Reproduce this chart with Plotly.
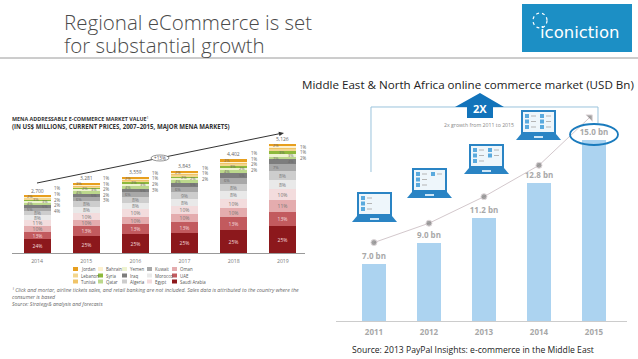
import plotly.graph_objects as go

W, H = 638, 359
FONT = "Open Sans"

# ---------- left chart data ----------
left_years = [2014, 2015, 2016, 2017, 2018, 2019]
left_totals = [2700, 3281, 3559, 3843, 4402, 5126]
left_total_labels = ["2,700", "3,281", "3,559", "3,843", "4,402", "5,126"]
countries = ["Saudi Arabia", "UAE", "Oman", "Egypt", "Morocco", "Algeria", "Kuwait", "Iraq",
             "Qatar", "Yemen", "Syria", "Lebanon", "Tunisia", "Bahrain", "Jordan"]
saudi = [24, 25, 25, 25, 25, 25]
uae = [13, 13, 13, 13, 13, 13]
oman = [10, 10, 10, 10, 10, 11]
egypt = [11, 10, 10, 10, 10, 10]
morocco = [8, 8, 8, 8, 8, 8]
algeria = [8, 8, 8, 9, 8, 8]
kuwait = [5, 6, 6, 6, 6, 7]
iraq = [5, 5, 5, 5, 5, 4]
qatar = [4, 4, 4, 4, 4, 2]
yemen = [3, 3, 3, 2, 2, 3]
syria = [3, 2, 2, 2, 3, 3]
lebanon = [2, 2, 2, 2, 2, 2]
tunisia = [1, 1, 1, 1, 1, 1]
bahrain = [1, 1, 1, 1, 1, 1]
jordan = [2, 2, 2, 2, 2, 2]
shares = [saudi, uae, oman, egypt, morocco, algeria, kuwait, iraq,
          qatar, yemen, syria, lebanon, tunisia, bahrain, jordan]
side_labels = [["1%", "1%", "2%", "2%", "4%"], ["1%", "1%", "2%", "2%", "3%"],
               ["1%", "1%", "2%", "3%"], ["1%", "1%", "2%"],
               ["1%", "1%", "2%", "2%"], ["1%", "1%", "2%"]]
legend_rows = [["Jordan", "Bahrain", "Yemen", "Kuwait", "Oman"],
               ["Lebanon", "Syria", "Iraq", "Morocco", "UAE"],
               ["Tunisia", "Qatar", "Algeria", "Egypt", "Saudi Arabia"]]

# ---------- right chart data ----------
right_years = [2011, 2012, 2013, 2014, 2015]
right_labels = ["7.0 bn", "9.0 bn", "11.2 bn", "12.8 bn", "15.0 bn"]
drawn_height_bn = [4.7, 6.5, 8.5, 11.4, 15.0]   # the source bars are not drawn to scale
trend_x = [2011, 2012, 2013, 2014, 2014.93]
trend_y = [6.5, 8.1, 10.3, 12.9, 16.9]

colors = {"Saudi Arabia": "#8c181c", "UAE": "#c25a5e", "Oman": "#e4acae", "Egypt": "#f3dcdd",
          "Morocco": "#e9e9e9", "Algeria": "#cdcdcd", "Kuwait": "#a8a8a8", "Iraq": "#7d7d7d",
          "Qatar": "#bcd88c", "Yemen": "#eef3d0", "Syria": "#8db93c", "Lebanon": "#f3d68e",
          "Tunisia": "#f0c468", "Bahrain": "#fdf1d0", "Jordan": "#e79f1e"}
dark = {"Saudi Arabia", "UAE"}
centred = {"Saudi Arabia", "UAE", "Oman", "Egypt", "Morocco", "Algeria"}
offset_labels = {"Kuwait": -7, "Iraq": 8, "Qatar": -7, "Yemen": 8, "Syria": -1, "Jordan": -7}


def px(x):
    return x / W


def py(y):
    return 1 - y / H


def rect(x0, y0, x1, y1, fill, line=None, lw=0):
    return dict(type="rect", xref="paper", yref="paper", x0=px(x0), x1=px(x1), y0=py(y0), y1=py(y1),
                fillcolor=fill, line=dict(color=line or fill, width=lw), layer="above")


def path(points, fill=None, line=None, lw=1, close=True):
    d = "M" + " L".join(f"{px(a):.5f},{py(b):.5f}" for a, b in points) + (" Z" if close else "")
    return dict(type="path", xref="paper", yref="paper", path=d, fillcolor=fill or "rgba(0,0,0,0)",
                line=dict(color=line or "rgba(0,0,0,0)", width=lw), layer="above")


def note(x, y, text, size=6, color="#555", anchor="left", **kw):
    return dict(xref="paper", yref="paper", x=px(x), y=py(y), text=text, showarrow=False,
                xanchor=anchor, yanchor="middle", align=anchor,
                font=dict(size=size, color=color, family=kw.pop("family", FONT)), **kw)


fig = go.Figure()
annotations = []

# left stacked bars
running = [0.0] * len(left_years)
for name, vals in zip(countries, shares):
    seg = [t * v / 100 for t, v in zip(left_totals, vals)]
    kw = {}
    if name in centred:
        kw = dict(text=[f"{v}%" for v in vals], textposition="inside", insidetextanchor="middle",
                  textangle=0, constraintext="none",
                  textfont=dict(size=5, color="#f4dede" if name in dark else "#777", family=FONT))
    fig.add_bar(x=left_years, y=seg, name=name, marker=dict(color=colors[name], line=dict(width=0)),
                width=0.55, xaxis="x", yaxis="y", showlegend=False, **kw)
    if name in offset_labels:
        for yr, base, s, v in zip(left_years, running, seg, vals):
            annotations.append(dict(x=yr, y=base + s / 2, xref="x", yref="y", text=f"{v}%", showarrow=False,
                                    xshift=offset_labels[name],
                                    font=dict(size=4, color="#666", family=FONT)))
    running = [r + s for r, s in zip(running, seg)]

# right bars and trend
fig.add_bar(x=right_years, y=drawn_height_bn, width=0.436, marker=dict(color="#acd3f0", line=dict(width=0)),
            text=[f"<b>{t}</b>" for t in right_labels], textposition="outside", cliponaxis=False,
            constraintext="none", textfont=dict(size=8, color="#a8a8a8", family=FONT),
            xaxis="x2", yaxis="y2", showlegend=False)
fig.add_scatter(x=trend_x, y=trend_y, mode="lines+markers", line=dict(color="#d3c8cc", width=1),
                marker=dict(color="#7b7b7b", size=[6, 6, 6, 6, 7],
                            symbol=["circle"] * 4 + ["triangle-ne"]),
                xaxis="x2", yaxis="y2", showlegend=False, cliponaxis=False)

shapes = [
    dict(type="line", xref="paper", yref="paper", x0=0, x1=1, y0=py(58), y1=py(58),
         line=dict(color="#9a9a9a", width=1)),
    rect(522, 4, 632, 52, "#1c8fc5"),
    dict(type="circle", xref="paper", yref="paper", x0=px(533), x1=px(547), y0=py(28), y1=py(13),
         line=dict(color="white", width=1.2, dash="dot"), layer="above"),
]
annotations += [
    note(62, 22, "Regional eCommerce is set", 20.5, "#4a4a4a", family="Open Sans Light, Open Sans"),
    note(62, 45, "for substantial growth", 20.5, "#4a4a4a", family="Open Sans Light, Open Sans"),
    note(579, 33, "iconiction", 16.5, "white", anchor="center", family="DejaVu Sans"),
    note(300, 84, "Middle East &amp; North Africa online commerce market (USD Bn)", 11.6, "#222222"),
    note(350, 350, "Source: 2013 PayPal Insights: e-commerce in the Middle East", 8.6, "#222222"),
    note(10, 118.5, "<b>MENA ADDRESSABLE E-COMMERCE MARKET VALUE</b><sup>1</sup>", 5.4, "#333"),
    note(10, 126.5, "<b>(IN US$ MILLIONS, CURRENT PRICES, 2007–2015, MAJOR MENA MARKETS)</b>", 6.1, "#333"),
    note(10, 290, "<i>¹ Click and mortar, airline tickets sales, and retail banking are not included. Sales data is attributed to the country where the</i>", 5.25, "#666"),
    note(10, 297, "<i>consumer is based</i>", 5.25, "#666"),
    note(10, 304, "<i>Source: Strategy&amp; analysis and forecasts</i>", 5.1, "#666"),
    note(479, 125, "2x growth from 2011 to 2015", 5.2, "#888", anchor="center"),
    note(480, 108.5, "<b>2X</b>", 11, "white", anchor="center"),
]

# left totals and side labels
side_y = [[188.5, 194, 199.5, 205, 210.5], [178, 184, 189, 195, 200], [173, 178, 184, 190],
          [168, 173, 179], [153, 159, 164, 170], [147, 152, 158]]
for yr, tot, lab, sl, ys in zip(left_years, left_totals, left_total_labels, side_labels, side_y):
    annotations.append(dict(x=yr, y=tot, xref="x", yref="y", text=lab, showarrow=False, yanchor="bottom",
                            font=dict(size=5, color="#666", family=FONT)))
    for t, yy in zip(sl, ys):
        annotations.append(dict(x=yr, xref="x", y=py(yy), yref="paper", text=t, showarrow=False,
                                xanchor="left", xshift=15, font=dict(size=4.4, color="#666", family=FONT)))

# CAGR arrow
shapes.append(path([(37, 183), (280, 133.6)], line="#333", lw=1, close=False))
shapes.append(path([(284, 133), (278.5, 131.8), (279.5, 136)], fill="#333"))
shapes.append(dict(type="circle", xref="paper", yref="paper", x0=px(151), x1=px(169), y0=py(155), y1=py(161),
                   fillcolor="white", line=dict(color="#666", width=0.7), layer="above"))
annotations.append(note(160, 158, "+13%", 4.6, "#555", anchor="center"))

# left legend
col_x = [73, 98, 122, 147, 172]
row_y = [269, 275.5, 281.5]
for row, yy in zip(legend_rows, row_y):
    for nm, xx in zip(row, col_x):
        shapes.append(rect(xx, yy - 2, xx + 5, yy + 2, colors[nm]))
        annotations.append(note(xx + 6, yy, nm, 4.4, "#555"))

# 2X arrow and bracket
shapes.append(path([(371, 172), (371, 107), (598, 107), (598, 123)], line="#9bc3dc", lw=1, close=False))
shapes.append(path([(480, 93), (504, 107), (493, 107), (493, 118), (467, 118), (467, 107), (455, 107)],
                   fill="#1273ba"))
# oval
shapes.append(dict(type="circle", xref="paper", yref="paper", x0=px(570), x1=px(618), y0=py(124), y1=py(145),
                   fillcolor="rgba(0,0,0,0)", line=dict(color="#1a7bbd", width=1.8), layer="above"))


def laptop(x0, y0, second):
    """x0,y0: upper-left corner of the screen."""
    blue = "#2a84c4"
    out = [
        rect(x0, y0, x0 + 35, y0 + 24, blue),
        rect(x0 + 2, y0 + 2, x0 + 33, y0 + 22, "#eef6fb"),
        path([(x0, y0 + 24), (x0 + 35, y0 + 24), (x0 + 40, y0 + 30), (x0 - 5, y0 + 30)], fill=blue),
        rect(x0 + 13, y0 + 26, x0 + 22, y0 + 28, "#cfe6f6"),
    ]
    for k in range(3):
        yy = y0 + 4 + k * 5.5
        out.append(rect(x0 + 4, yy, x0 + 8, yy + 4, "#5aaade"))
        out.append(rect(x0 + 10, yy + 1.5, x0 + 15, yy + 2.5, "#b5b5b5"))
    for k in range(second):
        yy = y0 + 4 + k * 5.5
        out.append(rect(x0 + 19, yy, x0 + 23, yy + 4, "#5aaade"))
        out.append(rect(x0 + 25, yy + 1.5, x0 + 30, yy + 2.5, "#b5b5b5"))
    return out


for (lx, ly), sec in zip([(357, 192), (412, 168), (469, 144), (521, 110)], [0, 1, 2, 3]):
    shapes += laptop(lx, ly, sec)

fig.update_layout(
    width=W, height=H, margin=dict(l=0, r=0, t=0, b=0), autosize=False,
    paper_bgcolor="white", plot_bgcolor="rgba(0,0,0,0)", barmode="stack", bargap=0,
    font=dict(family=FONT), showlegend=False,
    shapes=shapes, annotations=annotations,
    xaxis=dict(domain=[px(12), px(305)], range=[2013.49, 2019.45], tickvals=left_years,
               ticktext=[str(y) for y in left_years], ticklabelstandoff=3,
               ticks="", showgrid=False, zeroline=False, showline=True, linecolor="#999999", linewidth=1,
               tickfont=dict(size=5.2, color="#777", family=FONT), anchor="y"),
    yaxis=dict(domain=[py(253), py(130)], range=[0, 5785], visible=False, anchor="x"),
    xaxis2=dict(domain=[px(336), px(627)], range=[2010.31, 2015.6], tickvals=right_years,
                ticktext=[f"<b>{y}</b>" for y in right_years], ticklabelstandoff=3,
                ticks="", showgrid=False, zeroline=False, showline=True, linecolor="#cccccc", linewidth=1,
                tickfont=dict(size=8, color="#a8a8a8", family=FONT), anchor="y2"),
    yaxis2=dict(domain=[py(321), py(100)], range=[0, 18.31], visible=False, anchor="x2"),
)

fig.write_html("out.html", config={"displayModeBar": False}, post_script="document.body.style.margin='0';")
